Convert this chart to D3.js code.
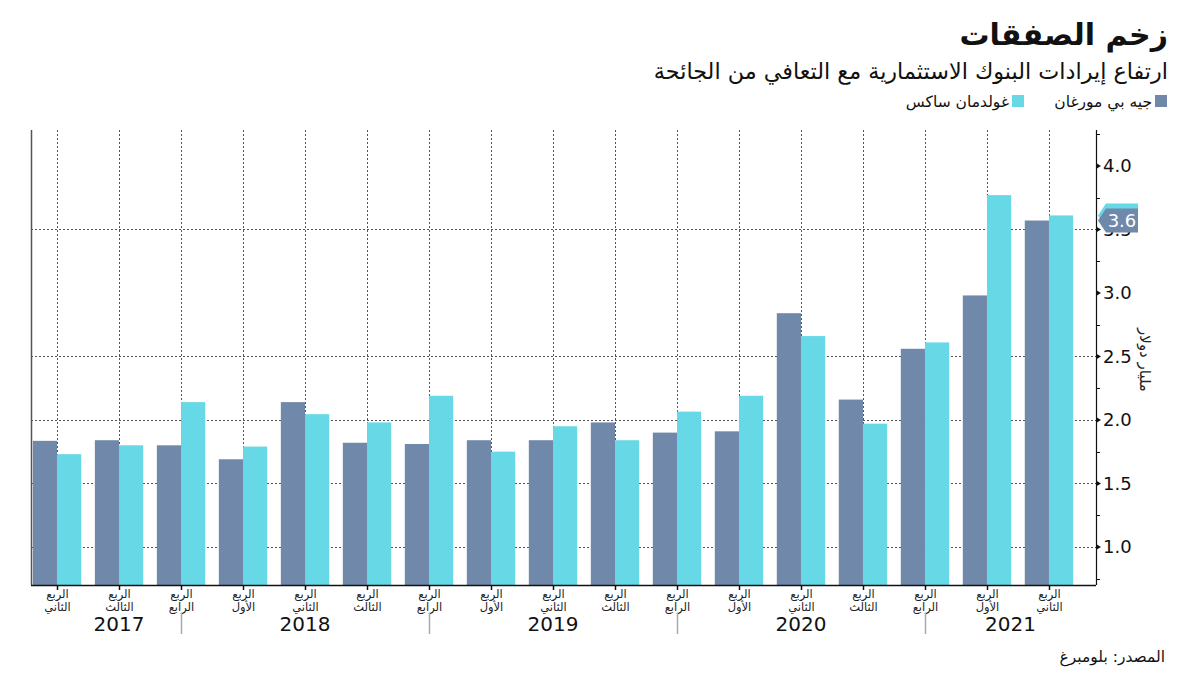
<!DOCTYPE html>
<html lang="ar">
<head>
<meta charset="utf-8">
<script src="https://cdn.jsdelivr.net/npm/d3@7"></script>
<style>
  html, body { margin: 0; padding: 0; background: #fff; }
  svg { display: block; font-family: "DejaVu Sans", "Noto Sans", sans-serif; }
</style>
</head>
<body>
<svg id="chart" width="1200" height="675"></svg>
<script>
// ---------- data ----------
const quarters = ["Q2 2017","Q3 2017","Q4 2017","Q1 2018","Q2 2018","Q3 2018","Q4 2018",
                  "Q1 2019","Q2 2019","Q3 2019","Q4 2019","Q1 2020","Q2 2020","Q3 2020",
                  "Q4 2020","Q1 2021","Q2 2021"];
const quarterNames = ["الأول","الثاني","الثالث","الرابع"];
const quarterPrefix = "الربع";
const jpMorgan = [1.835,1.84,1.80,1.69,2.14,1.82,1.81,1.84,1.84,1.98,1.90,1.91,2.84,2.16,2.56,2.98,3.57];
const goldman  = [1.73,1.80,2.14,1.79,2.045,1.98,2.19,1.75,1.95,1.84,2.065,2.19,2.66,1.97,2.61,3.77,3.61];
const years = ["2017","2018","2019","2020","2021"];
const yTicks = [1.0,1.5,2.0,2.5,3.0,3.5,4.0];
const yGridValues = [1.0,1.5,2.0,2.5,3.5];
const seriesNames = ["جيه بي مورغان","غولدمان ساكس"];
const title = "زخم الصفقات";
const subtitle = "ارتفاع إيرادات البنوك الاستثمارية مع التعافي من الجائحة";
const yTitle = "مليار دولار";
const source = "المصدر: بلومبرغ";

// ---------- layout ----------
const colors = ["#7088a9", "#66d8e6"];
const svg = d3.select("#chart");
const pLeft = 31, pRight = 1096, pTop = 130, pBottom = 585;

const x = d3.scaleBand().domain(quarters).range([pLeft, 1075]).paddingInner(0.22).paddingOuter(0.03);
const xs = d3.scaleBand().domain([0,1]).range([0, x.bandwidth()]);
const y = d3.scaleLinear().domain([0.7, 4.3]).range([pBottom, pBottom - 3.6 * 127]);
const cx = q => x(q) + x.bandwidth() / 2;

// right-aligned Arabic text helper
function rtlText(g, xPos, yPos, size, txt, weight) {
  return g.append("text").attr("x", xPos).attr("y", yPos)
    .attr("direction", "rtl").attr("text-anchor", "start")
    .attr("font-size", size).attr("font-weight", weight || "normal")
    .attr("fill", "#111").text(txt);
}

// ---------- titles ----------
rtlText(svg, 1168, 45, 30, title, "bold");
rtlText(svg, 1168, 79, 22.3, subtitle);

// legend
const legend = svg.append("g");
const legendX = [1167, 1024];
seriesNames.forEach((n, i) => {
  legend.append("rect").attr("x", legendX[i] - 12).attr("y", 95).attr("width", 12).attr("height", 12)
    .attr("fill", colors[i]);
  rtlText(legend, legendX[i] - 15, 107, 15.5, n);
});

// ---------- grid ----------
const grid = svg.append("g");
grid.selectAll("line.v").data(quarters).join("line")
  .attr("x1", d => Math.round(cx(d)) + 0.5).attr("x2", d => Math.round(cx(d)) + 0.5)
  .attr("y1", pTop).attr("y2", pBottom)
  .attr("stroke", "#555").attr("stroke-width", 1).attr("stroke-dasharray", "2,2");
grid.selectAll("line.h").data(yGridValues).join("line")
  .attr("x1", pLeft).attr("x2", pRight)
  .attr("y1", d => Math.round(y(d)) + 0.5).attr("y2", d => Math.round(y(d)) + 0.5)
  .attr("stroke", "#555").attr("stroke-width", 1).attr("stroke-dasharray", "2,2");

// ---------- bars ----------
const series = [jpMorgan, goldman];
series.forEach((vals, si) => {
  svg.append("g").selectAll("rect").data(quarters).join("rect")
    .attr("x", d => x(d) + xs(si))
    .attr("width", xs.bandwidth())
    .attr("y", (d, i) => y(vals[i]))
    .attr("height", (d, i) => y(0.7) - y(vals[i]))
    .attr("fill", colors[si]);
});

// ---------- axes ----------
svg.append("line").attr("x1", pLeft + 0.5).attr("x2", pLeft + 0.5).attr("y1", pTop).attr("y2", pBottom)
  .attr("stroke", "#555").attr("stroke-width", 1.5);
svg.append("line").attr("x1", pLeft).attr("x2", pRight).attr("y1", pBottom + 0.5).attr("y2", pBottom + 0.5)
  .attr("stroke", "#111").attr("stroke-width", 1.5);
svg.append("line").attr("x1", pRight + 0.5).attr("x2", pRight + 0.5).attr("y1", pTop).attr("y2", pBottom)
  .attr("stroke", "#111").attr("stroke-width", 1.2);

// x ticks and labels
const xAxis = svg.append("g");
quarters.forEach(q => {
  const qi = +q[1] - 1;
  const px = Math.round(cx(q)) + 0.5;
  xAxis.append("line").attr("x1", px).attr("x2", px).attr("y1", pBottom).attr("y2", pBottom + 5)
    .attr("stroke", "#111").attr("stroke-width", 1.5);
  xAxis.append("text").attr("x", px).attr("y", pBottom + 13).attr("text-anchor", "middle")
    .attr("font-size", 11.5).attr("fill", "#222").text(quarterPrefix);
  xAxis.append("text").attr("x", px).attr("y", pBottom + 26).attr("text-anchor", "middle")
    .attr("font-size", 11.5).attr("fill", "#222").text(quarterNames[qi]);
  if (qi === 3) {
    xAxis.append("line").attr("x1", px).attr("x2", px).attr("y1", 613).attr("y2", 634)
      .attr("stroke", "#aaa").attr("stroke-width", 1.5);
  }
});
// year labels centred on the visible span of each year (boundaries at Q4 ticks)
years.forEach(yr => {
  const qs = quarters.filter(q => q.endsWith(yr));
  const q4prev = "Q4 " + (+yr - 1);
  const lo = quarters.includes(q4prev) ? cx(q4prev) : cx(qs[0]);
  const hi = qs[qs.length - 1].startsWith("Q4") ? cx(qs[qs.length - 1]) : pRight;
  xAxis.append("text").attr("x", (lo + hi) / 2).attr("y", 631).attr("text-anchor", "middle")
    .attr("font-size", 20).attr("fill", "#111").text(yr);
});

// y axis (right)
const yAxis = svg.append("g");
d3.range(0.75, 4.3, 0.25).filter(v => !yTicks.some(t => Math.abs(t - v) < 1e-6)).forEach(v => {
  const py = Math.round(y(v)) + 0.5;
  yAxis.append("line").attr("x1", pRight).attr("x2", pRight + 4).attr("y1", py).attr("y2", py)
    .attr("stroke", "#111").attr("stroke-width", 1);
});
yTicks.forEach(v => {
  const py = y(v);
  yAxis.append("path").attr("d", `M${pRight},${py - 3}L${pRight + 5},${py}L${pRight},${py + 3}Z`).attr("fill", "#111");
  yAxis.append("text").attr("x", pRight + 7).attr("y", py + 6.5).attr("font-size", 18)
    .attr("fill", "#111").text(d3.format(".1f")(v));
});
svg.append("text").attr("transform", `translate(1140,360) rotate(90)`).attr("text-anchor", "middle")
  .attr("font-size", 15).attr("fill", "#222").text(yTitle);

// last-value badges
const badge = svg.append("g");
[[goldman, 1], [jpMorgan, 0]].forEach(([vals, si]) => {
  const v = vals[vals.length - 1];
  const py = y(v);
  badge.append("path")
    .attr("d", `M${pRight + 2},${py}L${pRight + 10},${py - 12}L${pRight + 42},${py - 12}L${pRight + 42},${py + 12}L${pRight + 10},${py + 12}Z`)
    .attr("fill", colors[si]);
  if (si === 0) {
    badge.append("text").attr("x", pRight + 26).attr("y", py + 6.5).attr("text-anchor", "middle")
      .attr("font-size", 18).attr("fill", "#fff").text(d3.format(".1f")(v));
  }
});

// source
rtlText(svg, 1165, 662, 15.5, source);
</script>
</body>
</html>
